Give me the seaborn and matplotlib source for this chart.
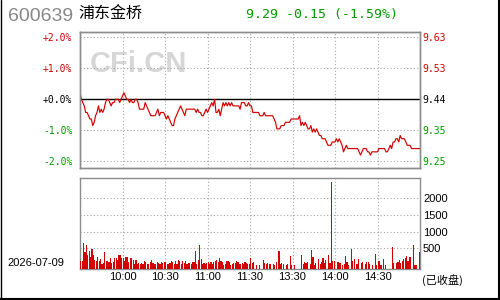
import numpy as np
import pandas as pd
import matplotlib
matplotlib.use("Agg")
import matplotlib.pyplot as plt
import seaborn as sns
from matplotlib.lines import Line2D

# ---------------- data ----------------
stock_code = "600639"
stock_name = "浦东金桥"
prev_close = 9.44
last_price = 9.29
date_label = "2026-07-09"
status_label = "(已收盘)"

# price change from previous close, in cents (0.01 CNY), one value per minute
price_cents_am = [2, 0, -1, -2, -4, -4, -5, -6, -6, -8, -7, -5, -4, -2, -4, -3, -4, -3, -1, 0,
                  0, -1, -2, -1, -1, 0, 0, 0, -1, 0, 1, 2, 1, 0, 0, -1, 0, -1, -1, 0,
                  0, -1, -3, -3, -3, -3, -1, -2, -3, -4, -5, -5, -5, -5, -4, -3, -5, -4, -4, -4,
                  -5, -6, -5, -6, -7, -8, -8, -6, -5, -4, -3, -2, -3, -4, -5, -3, -3, -3, -3, -3,
                  -3, -3, -4, -3, -4, -4, -5, -5, -4, -3, -4, -3, -2, -1, -2, 0, -4, -4, -3, -5,
                  -3, -1, -2, -1, -2, -1, -2, -1, -2, -2, -2, -2, -2, -3, -1, -1, -1, -2, -2, -1,
                  -2]
price_cents_pm = [-2, -4, -4, -4, -4, -4, -5, -5, -5, -4, -5, -5, -5, -5, -5, -5, -6, -7, -9, -9,
                  -9, -8, -8, -8, -7, -7, -7, -7, -6, -6, -6, -6, -6, -6, -5, -8, -7, -8, -7, -8,
                  -9, -9, -8, -10, -9, -10, -9, -10, -11, -11, -12, -12, -12, -13, -14, -14, -14, -13, -13, -13,
                  -12, -13, -12, -13, -14, -16, -15, -14, -15, -15, -15, -15, -15, -15, -15, -15, -16, -17, -16, -15,
                  -15, -15, -16, -16, -17, -16, -16, -16, -16, -16, -15, -15, -15, -15, -15, -16, -16, -15, -14, -15,
                  -13, -13, -12, -12, -13, -11, -12, -12, -12, -13, -14, -14, -14, -15, -15, -15, -15, -15, -15, -15]

nan = float("nan")
volume_am = [120, 120, 650, 400, 600, 300, 420, 250, 480, 300, 150, 120, 230, 130, 180, 30, 60, 380, 120, 120,
             100, 200, 50, 80, 200, 200, 150, 300, 300, 220, 200, 120, 250, 230, 80, 200, 220, 150, 40, 150,
             30, 50, 20, 60, 30, 120, 80, 30, 20, 80, 150, 50, 30, 20, 80, 50, 30, 100, 50, 80,
             100, 20, 20, 60, 120, 100, 20, 120, 20, 150, 120, 20, 120, 60, 120, 20, 50, 50, 20, 100,
             100, 420, 30, 150, 600, 180, 20, 50, 40, 50, 80, 20, 100, 40, 100, 120, 150, 100, 220, 120,
             100, 0, 20, 120, 120, 80, 0, 30, 50, 50, 120, 80, 30, 20, 50, 20, 80, 50, 20, 20]
volume_pm = [200, 60, 100, nan, 0, nan, 0, nan, nan, 150, 70, 40, 50, 30, 30, nan, 20, 0, 100, nan,
             430, 30, 50, 30, nan, 0, 20, nan, 270, 0, nan, 0, nan, nan, nan, nan, 300, 30, 100, 50,
             100, nan, 30, 450, 230, 0, 70, nan, 170, 30, 100, 220, 50, 150, nan, 300, 50, 2500, 130, 130,
             nan, 100, 100, 50, nan, 0, 30, 270, 100, 0, nan, 480, 130, 170, nan, 30, 170, nan, 50, 100,
             nan, 30, 100, 100, 20, nan, 0, nan, 330, 0, 130, 130, 0, nan, 180, 0, nan, nan, nan, nan,
             550, 70, nan, 70, 100, 150, 70, 130, 170, 200, 270, 130, 230, 230, nan, 600, 0, 0, nan, 400]

time_ticks = [30, 60, 90, 120, 150, 180, 210]
time_labels = ["10:00", "10:30", "11:00", "11:30", "13:30", "14:00", "14:30"]
pct_ticks = [2, 1, 0, -1, -2]
pct_labels = ["+2.0%", "+1.0%", "+0.0%", "-1.0%", "-2.0%"]
price_labels = ["9.63", "9.53", "9.44", "9.35", "9.25"]
vol_ticks = [500, 1000, 1500, 2000]
vol_labels = ["500", "1000", "1500", "2000"]

# ---------------- styling ----------------
RED = "#d40000"
GREEN = "#009a00"
GRID = "#a8a8a8"
SPINE = "#8c8c8c"

sns.set_theme(style="white")
plt.rcParams["font.family"] = ["Liberation Sans", "Noto Sans CJK SC", "DejaVu Sans"]

prices = prev_close + np.array(price_cents_am + price_cents_pm) / 100.0
pct = (prices - prev_close) / prev_close * 100
price_df = pd.DataFrame({"minute": np.arange(len(pct)), "pct": pct})
vol = np.array(volume_am + volume_pm, dtype=float)
vol_df = pd.DataFrame({"minute": np.arange(len(vol)), "vol": vol})

fig = plt.figure(figsize=(5, 3), dpi=100)
fig.patch.set_facecolor("white")
ax = fig.add_axes([80 / 500, 1 - 168 / 300, 340 / 500, 136 / 300])
axv = fig.add_axes([80 / 500, 1 - 269 / 300, 340 / 500, 91 / 300])

dots = (0, (1, 2))

# ---- price panel ----
ax.set_xlim(0, 240)
ax.set_ylim(-2.216, 2.171)
ax.set_xticks(time_ticks)
ax.set_xticklabels([])
ax.set_yticks(pct_ticks)
ax.set_yticklabels(pct_labels, family="DejaVu Sans Mono", fontsize=7)
pct_colors = [RED, RED, "black", GREEN, GREEN]
for lab, c in zip(ax.get_yticklabels(), pct_colors):
    lab.set_color(c)
ax.tick_params(axis="both", length=0, pad=5.6)
ax.grid(True, color=GRID, linestyle=dots, linewidth=0.8)
ax.axhline(0, color="black", linewidth=1.0, zorder=2)
ax.text(0.03, 0.765, "CFi.CN", transform=ax.transAxes, family="Liberation Sans",
        fontweight="bold", fontsize=21, color="#d6d6d6", va="center", ha="left", zorder=0)
sns.lineplot(data=price_df, x="minute", y="pct", ax=ax, color=RED, linewidth=0.85, zorder=3)
ax.set_xlabel("")
ax.set_ylabel("")

axr = ax.twinx()
axr.set_ylim(ax.get_ylim())
axr.set_yticks(pct_ticks)
axr.set_yticklabels(price_labels, family="DejaVu Sans Mono", fontsize=7)
for lab, c in zip(axr.get_yticklabels(), pct_colors):
    lab.set_color(c)
axr.tick_params(axis="y", length=0, pad=1.4)
axr.grid(False)

for a in (ax, axr, axv):
    for s in a.spines.values():
        s.set_color(SPINE)
        s.set_linewidth(1.0)

# ---- volume panel ----
vmin = -120
axv.set_xlim(0, 240)
axv.set_ylim(vmin, 2610)
axv.bar(vol_df["minute"] + 0.5, vol_df["vol"] - vmin, bottom=vmin, width=0.8,
        color=RED, linewidth=0, zorder=3, antialiased=False)
axv.set_xticks(time_ticks)
axv.set_xticklabels(time_labels, fontsize=8, color="black")
axv.yaxis.tick_right()
axv.set_yticks(vol_ticks)
axv.set_yticklabels(vol_labels, fontsize=8, color="black")
axv.tick_params(axis="x", length=0, pad=2.5)
axv.tick_params(axis="y", length=0, pad=2.2)
axv.grid(True, color=GRID, linestyle=dots, linewidth=0.8)

# ---- header & footer texts ----
fig.text(8 / 500, 1 - 16.5 / 300, stock_code, fontsize=14, color="#888888",
         family="Liberation Sans", va="center", ha="left")
fig.text(78 / 500, 1 - 14.5 / 300, stock_name, fontsize=11.5, color="black",
         family=["Noto Sans CJK SC", "DejaVu Sans"], va="center", ha="left")
chg = last_price - prev_close
head = f"{last_price:.2f} {chg:+.2f} ({chg / prev_close * 100:+.2f}%)"
fig.text(246 / 500, 1 - 14.5 / 300, head, fontsize=9.5, color=GREEN,
         family="DejaVu Sans Mono", va="center", ha="left")
fig.text(7 / 500, 1 - 263 / 300, date_label, fontsize=8, color="black",
         family="Liberation Sans", va="center", ha="left")
fig.text(422 / 500, 1 - 280 / 300, status_label, fontsize=8, color="black",
         family=["Noto Sans CJK SC", "DejaVu Sans"], va="center", ha="left")

# outer frame (left, right, bottom)
fig.add_artist(Line2D([0.6 / 500, 0.6 / 500], [0, 1], color="black", linewidth=1.0))
fig.add_artist(Line2D([499 / 500, 499 / 500], [0, 1], color="black", linewidth=1.5))
fig.add_artist(Line2D([0, 1], [1.2 / 300, 1.2 / 300], color="black", linewidth=1.5))

fig.savefig("out.png", dpi=100)
